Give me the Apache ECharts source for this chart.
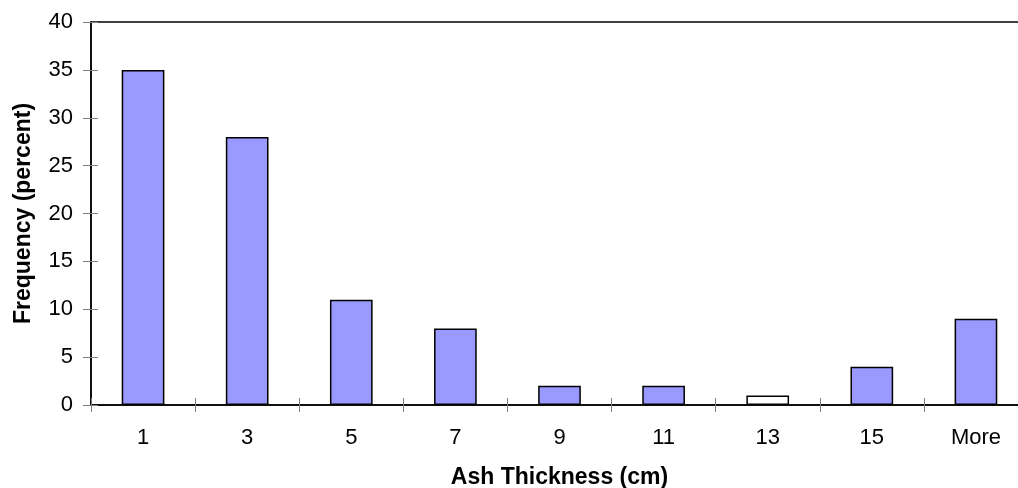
<!DOCTYPE html>
<html>
<head>
<meta charset="utf-8">
<script src="https://cdn.jsdelivr.net/npm/echarts@6/dist/echarts.min.js"></script>
<style>html,body{margin:0;padding:0;background:#fff}#c{width:1018px;height:488px}</style>
</head>
<body>
<div id="c"></div>
<script>
var categories = ['1', '3', '5', '7', '9', '11', '13', '15', 'More'];
var frequency = [35, 28, 11, 8, 2, 2, 1, 4, 9];
var whiteBars = ['13'];
var yTicks = [0, 5, 10, 15, 20, 25, 30, 35, 40];

var chart = echarts.init(document.getElementById('c'), null, {renderer: 'canvas'});
var font = 'Liberation Sans, Arial, sans-serif';
var tickStyle = {color: '#808080', width: 1};
chart.setOption({
  animation: false,
  backgroundColor: '#fff',
  grid: {left: 91, right: -10, top: 22, bottom: 83, outerBoundsMode: 'none', containLabel: false,
    show: true, borderColor: '#000', borderWidth: 1.5, backgroundColor: 'transparent'},
  xAxis: [{
    type: 'category', data: categories, position: 'bottom',
    axisLine: {lineStyle: {color: '#000', width: 1.5}},
    axisTick: {show: true, length: 7, lineStyle: tickStyle},
    axisLabel: {color: '#000', fontSize: 22, fontFamily: font, margin: 22},
    name: 'Ash Thickness (cm)', nameLocation: 'middle', nameGap: 61,
    nameTextStyle: {color: '#000', fontSize: 23, fontWeight: 'bold', fontFamily: font}
  }, {
    type: 'category', data: categories, position: 'bottom',
    axisLine: {show: false},
    axisTick: {show: true, inside: true, length: 7, lineStyle: tickStyle},
    axisLabel: {show: false}
  }],
  yAxis: [{
    type: 'value', min: 0, max: 40, interval: 5,
    axisLine: {show: true, lineStyle: {color: '#000', width: 1.5}},
    axisTick: {show: true, length: 8, lineStyle: tickStyle},
    splitLine: {show: false},
    axisLabel: {color: '#000', fontSize: 22, fontFamily: font, margin: 18,
      formatter: function (v) { return yTicks.indexOf(v) >= 0 ? String(v) : ''; }},
    name: 'Frequency (percent)', nameLocation: 'middle', nameGap: 56,
    nameTextStyle: {color: '#000', fontSize: 23, fontWeight: 'bold', fontFamily: font}
  }, {
    type: 'value', min: 0, max: 40, interval: 5, position: 'left',
    axisLine: {show: false},
    axisTick: {show: true, inside: true, length: 7, lineStyle: tickStyle},
    splitLine: {show: false},
    axisLabel: {show: false}
  }],
  series: [{
    type: 'bar',
    barWidth: '41%',
    data: frequency.map(function (v, i) {
      var white = whiteBars.indexOf(categories[i]) >= 0;
      return {value: v, itemStyle: {color: white ? '#ffffff' : '#9999ff'}};
    }),
    itemStyle: {borderColor: '#000', borderWidth: 1.5}
  }]
});
</script>
</body>
</html>
